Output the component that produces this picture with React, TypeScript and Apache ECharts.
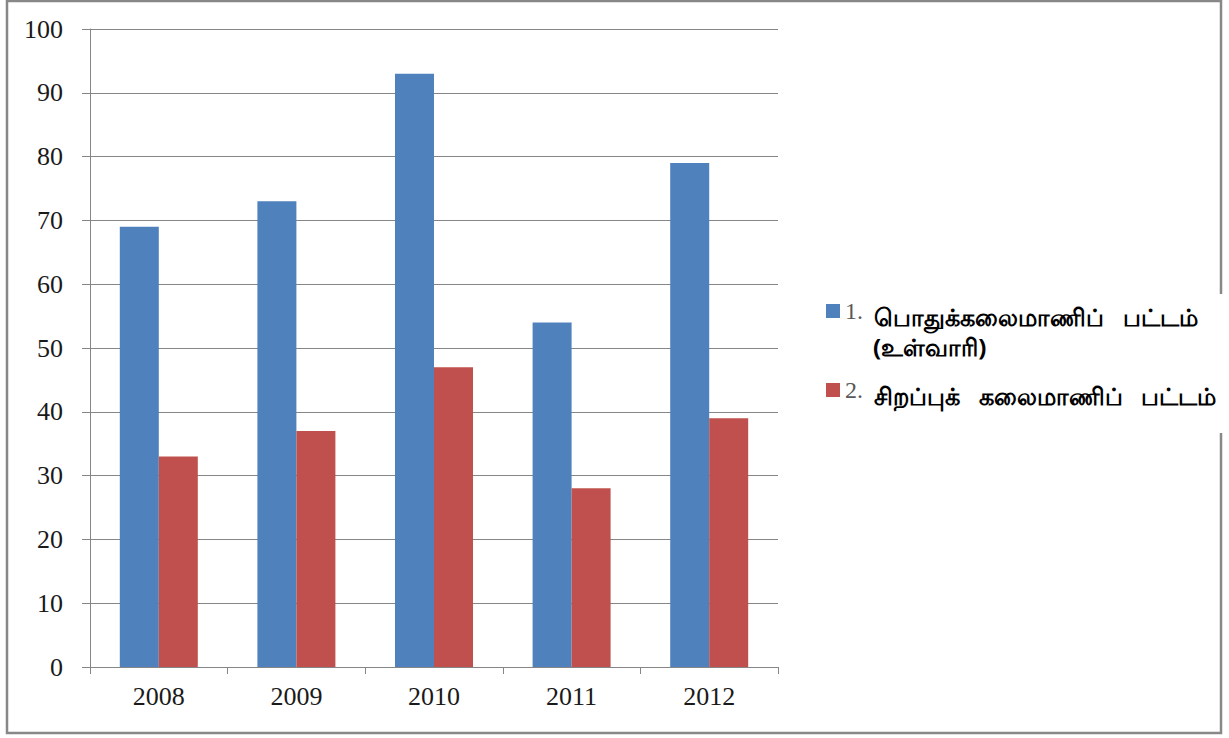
import React, { useEffect, useRef } from "react";
import * as echarts from "echarts";

const years = ["2008", "2009", "2010", "2011", "2012"];
const generalDegree = [69, 73, 93, 54, 79];
const specialDegree = [33, 37, 47, 28, 39];
const seriesNames = [
  "1. பொதுக்கலைமாணிப் பட்டம் (உள்வாரி)",
  "2. சிறப்புக் கலைமாணிப் பட்டம்",
];
const legendNumbers = ["1.", "2."];
const legendLine1 = [
  "பொதுக்கலைமாணிப்   பட்டம்",
  "சிறப்புக்   கலைமாணிப்   பட்டம்",
];
const legendLine2 = "(உள்வாரி)";
const seriesColors = ["#4F81BD", "#C0504D"];

export default function App() {
  const ref = useRef<HTMLDivElement>(null);
  useEffect(() => {
    if (!ref.current) return;
    const chart = echarts.init(ref.current, null, { renderer: "svg" });
    const axisGray = "#868686";
    chart.setOption({
      animation: false,
      backgroundColor: "#fff",
      grid: { left: 90, right: 451, top: 29, bottom: 71, containLabel: false },
      xAxis: {
        type: "category",
        data: years,
        axisLine: { lineStyle: { color: axisGray, width: 1 } },
        axisTick: { show: true, length: 7, lineStyle: { color: axisGray } },
        axisLabel: {
          margin: 16,
          color: "#1a1a1a",
          fontFamily: "Liberation Serif",
          fontSize: 26,
        },
      },
      yAxis: {
        type: "value",
        min: 0,
        max: 100,
        interval: 10,
        axisLine: { show: true, lineStyle: { color: axisGray, width: 1 } },
        axisTick: { show: true, length: 8, lineStyle: { color: axisGray } },
        splitLine: { lineStyle: { color: axisGray, width: 1 } },
        axisLabel: {
          margin: 27,
          color: "#1a1a1a",
          fontFamily: "Liberation Serif",
          fontSize: 26,
        },
      },
      legend: {
        orient: "vertical",
        left: 821,
        top: 294,
        itemWidth: 14,
        itemHeight: 14,
        itemGap: 50,
        icon: "rect",
        data: seriesNames,
        formatter: (name: string) => {
          const i = seriesNames.indexOf(name);
          return `{n|${legendNumbers[i]}}{t|${legendLine1[i]}}`;
        },
        textStyle: {
          rich: {
            n: {
              fontFamily: "Liberation Serif",
              fontSize: 24,
              color: "#595959",
              width: 29,
            },
            t: {
              fontFamily: "Noto Sans, sans-serif",
              fontSize: 24,
              fontWeight: "bold",
              color: "#000",
              padding: [10, 0, 0, 0],
            },
          },
        },
      },
      graphic: [
        {
          type: "rect",
          z: 100,
          silent: true,
          shape: { x: 7, y: 1, width: 1214, height: 732 },
          style: { fill: "none", stroke: "#888888", lineWidth: 2.5 },
        },
        {
          type: "rect",
          z: 101,
          silent: true,
          shape: { x: 1216, y: 294, width: 13, height: 139 },
          style: { fill: "#fff" },
        },
        {
          type: "text",
          z: 101,
          left: 873,
          top: 334,
          style: {
            text: legendLine2,
            fontFamily: "Noto Sans, sans-serif",
            fontSize: 24,
            fontWeight: "bold",
            fill: "#000",
          },
        },
      ],
      series: [
        {
          name: seriesNames[0],
          type: "bar",
          data: generalDegree,
          barWidth: 39,
          barGap: "0%",
          itemStyle: { color: seriesColors[0] },
        },
        {
          name: seriesNames[1],
          type: "bar",
          data: specialDegree,
          barWidth: 39,
          barGap: "0%",
          itemStyle: { color: seriesColors[1] },
        },
      ],
    });
    return () => chart.dispose();
  }, []);
  return (
    <div
      ref={ref}
      style={{ position: "fixed", left: 0, top: 0, width: 1229, height: 738 }}
    />
  );
}
